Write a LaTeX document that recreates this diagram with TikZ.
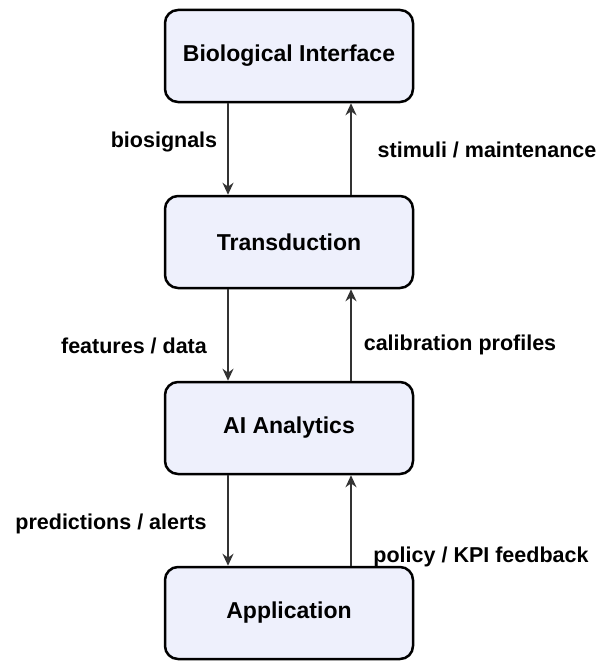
\documentclass[tikz,border=0pt]{standalone}
\usepackage{fontspec}
\setmainfont{Liberation Sans}
\usetikzlibrary{arrows.meta}
\definecolor{boxfill}{HTML}{EEF0FC}
\definecolor{arrcol}{HTML}{333333}
\tikzset{
  stage/.style={draw=black, line width=2.5pt, fill=boxfill, rounded corners=13pt,
    minimum width=248pt, minimum height=92pt, font=\fontsize{23}{27}\selectfont\bfseries},
  flow/.style={draw=arrcol, line width=1.5pt, -{Stealth[length=12pt,width=11pt]}},
  lbl/.style={font=\fontsize{21.5}{25}\selectfont\bfseries, inner sep=0pt}
}
\begin{document}
\begin{tikzpicture}[x=1pt,y=-1pt]
\useasboundingbox (0,0) rectangle (609,661);
\node[stage] (bio) at (289,56) {Biological Interface};
\node[stage] (trans) at (289,242) {Transduction};
\node[stage] (ai) at (289,428) {AI Analytics};
\node[stage] (app) at (289,613) {Application};

\draw[flow] ([xshift=-61pt]bio.south) -- ([xshift=-61pt]trans.north);
\draw[flow] ([xshift=62pt]trans.north) -- ([xshift=62pt]bio.south);
\draw[flow] ([xshift=-61pt]trans.south) -- ([xshift=-61pt]ai.north);
\draw[flow] ([xshift=62pt]ai.north) -- ([xshift=62pt]trans.south);
\draw[flow] ([xshift=-61pt]ai.south) -- ([xshift=-61pt]app.north);
\draw[flow] ([xshift=62pt]app.north) -- ([xshift=62pt]ai.south);

\node[lbl] (l1) at (164,142) {biosignals};
\node[lbl] (l2) at (487,150) {stimuli / maintenance};
\node[lbl] (l3) at (134,346) {features / data};
\node[lbl] (l4) at (460,345) {calibration profiles};
\node[lbl] (l5) at (111,524) {predictions / alerts};
\node[lbl] (l6) at (481,557) {policy / KPI feedback};
\end{tikzpicture}
\end{document}
